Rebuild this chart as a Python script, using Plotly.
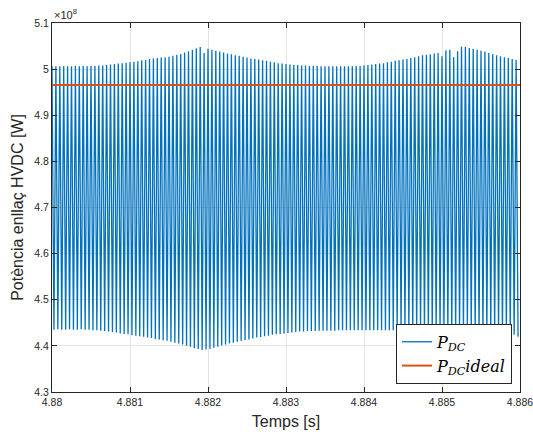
import plotly.graph_objects as go

# ---- data (power in units of 1e8 W) ----
t_start = 4.880          # s, first ripple peak
ripple_period = 0.00005  # s, spacing of ripple peaks

p_dc_max = [
    5.006, 5.006, 5.006, 5.006, 5.006, 5.006, 5.007, 5.006, 5.007, 5.006,
    5.007, 5.007, 5.008, 5.008, 5.009, 5.010, 5.011, 5.012, 5.013, 5.014,
    5.015, 5.016, 5.017, 5.019, 5.020, 5.022, 5.023, 5.024, 5.025, 5.026,
    5.027, 5.029, 5.031, 5.033, 5.036, 5.039, 5.042, 5.045, 5.048, 5.035,
    5.044, 5.042, 5.040, 5.038, 5.036, 5.034, 5.032, 5.030, 5.029, 5.027,
    5.025, 5.023, 5.022, 5.021, 5.019, 5.018, 5.016, 5.015, 5.013, 5.012,
    5.011, 5.010, 5.009, 5.009, 5.008, 5.008, 5.007, 5.007, 5.007, 5.006,
    5.006, 5.006, 5.006, 5.006, 5.006, 5.006, 5.006, 5.006, 5.007, 5.007,
    5.008, 5.009, 5.010, 5.011, 5.012, 5.013, 5.015, 5.016, 5.018, 5.019,
    5.021, 5.022, 5.024, 5.026, 5.028, 5.030, 5.031, 5.032, 5.034, 5.035,
    5.028, 5.041, 5.042, 5.026, 5.039, 5.049, 5.048, 5.046, 5.044, 5.042,
    5.040, 5.038, 5.035, 5.032, 5.030, 5.028, 5.026, 5.024, 5.022, 5.020,
]

p_dc_min = [
    4.435, 4.436, 4.435, 4.435, 4.436, 4.435, 4.435, 4.436, 4.435, 4.435,
    4.434, 4.434, 4.433, 4.432, 4.431, 4.430, 4.429, 4.427, 4.426, 4.425,
    4.423, 4.422, 4.421, 4.420, 4.418, 4.417, 4.415, 4.414, 4.412, 4.411,
    4.409, 4.407, 4.405, 4.403, 4.400, 4.398, 4.395, 4.393, 4.391, 4.392,
    4.394, 4.396, 4.398, 4.401, 4.403, 4.405, 4.407, 4.409, 4.411, 4.413,
    4.414, 4.416, 4.418, 4.419, 4.421, 4.422, 4.424, 4.425, 4.426, 4.427,
    4.428, 4.429, 4.430, 4.431, 4.431, 4.432, 4.432, 4.432, 4.433, 4.433,
    4.433, 4.433, 4.433, 4.434, 4.434, 4.434, 4.434, 4.434, 4.434, 4.434,
    4.434, 4.434, 4.434, 4.434, 4.434, 4.434, 4.434, 4.434, 4.434, 4.434,
    4.434, 4.434, 4.433, 4.433, 4.433, 4.432, 4.432, 4.432, 4.431, 4.431,
    4.431, 4.430, 4.430, 4.430, 4.430, 4.430, 4.430, 4.430, 4.429, 4.429,
    4.429, 4.429, 4.428, 4.428, 4.428, 4.427, 4.427, 4.426, 4.424, 4.420,
]

p_dc_ideal = 4.9656
t_range = [4.880, 4.886]

x_tick_vals = [4.880, 4.881, 4.882, 4.883, 4.884, 4.885, 4.886]
x_tick_text = ["4.88", "4.881", "4.882", "4.883", "4.884", "4.885", "4.886"]
y_tick_vals = [4.3, 4.4, 4.5, 4.6, 4.7, 4.8, 4.9, 5.0, 5.1]
y_tick_text = ["4.3", "4.4", "4.5", "4.6", "4.7", "4.8", "4.9", "5", "5.1"]

# ---- build the ripple waveform from per-cycle peaks/troughs ----
t_wave, p_wave = [], []
for k, (hi, lo) in enumerate(zip(p_dc_max, p_dc_min)):
    t0 = t_start + k * ripple_period
    t_wave += [t0, t0 + ripple_period / 2]
    p_wave += [hi, lo]

BLUE = "#0072BD"
ORANGE = "#D95319"
SANS = "Liberation Sans, Arial, sans-serif"

fig = go.Figure()
fig.add_trace(go.Scatter(
    x=t_wave, y=p_wave, mode="lines",
    line=dict(color=BLUE, width=1.3),
    name="<i>P</i><sub><i>DC</i></sub>",
    hoverinfo="skip",
))
fig.add_trace(go.Scatter(
    x=t_range, y=[p_dc_ideal, p_dc_ideal], mode="lines",
    line=dict(color=ORANGE, width=2),
    name="<i>P</i><sub><i>DC</i></sub><i>ideal</i>",
    hoverinfo="skip",
))

axis_common = dict(
    showline=True, linecolor="#262626", linewidth=1, mirror="ticks",
    ticks="inside", ticklen=5, tickcolor="#262626",
    showgrid=True, gridcolor="#E3E3E3", gridwidth=1,
    zeroline=False, automargin=False, ticklabeloverflow="allow",
    tickfont=dict(family=SANS, size=10.5, color="#262626"),
)

fig.update_layout(
    width=533, height=434,
    margin=dict(l=52, r=13, t=23, b=42, autoexpand=False),
    paper_bgcolor="white", plot_bgcolor="white",
    showlegend=True,
    hovermode=False,
    legend=dict(
        x=0.983, y=0.022, xanchor="right", yanchor="bottom",
        bgcolor="white", bordercolor="#262626", borderwidth=1,
        font=dict(family="DejaVu Serif, Liberation Serif, serif", size=16, color="black"),
        tracegroupgap=0, itemwidth=30,
    ),
    xaxis=dict(
        range=t_range, tickvals=x_tick_vals, ticktext=x_tick_text,
        title=dict(text="Temps [s]", standoff=9,
                   font=dict(family=SANS, size=16, color="#262626")),
        **axis_common,
    ),
    yaxis=dict(
        range=[4.3, 5.1], tickvals=y_tick_vals, ticktext=y_tick_text,
        title=dict(text="Potència enllaç HVDC [W]", standoff=6,
                   font=dict(family=SANS, size=16, color="#262626")),
        **axis_common,
    ),
    annotations=[dict(
        text="×10<sup>8</sup>", xref="paper", yref="paper", x=0.0, y=1.0,
        xanchor="left", yanchor="bottom", showarrow=False,
        font=dict(family=SANS, size=11, color="#262626"),
    )],
)

fig.write_html(
    "out.html",
    config={"displayModeBar": False, "staticPlot": True},
    post_script="document.body.style.margin='0px';document.body.style.padding='0px';",
)
